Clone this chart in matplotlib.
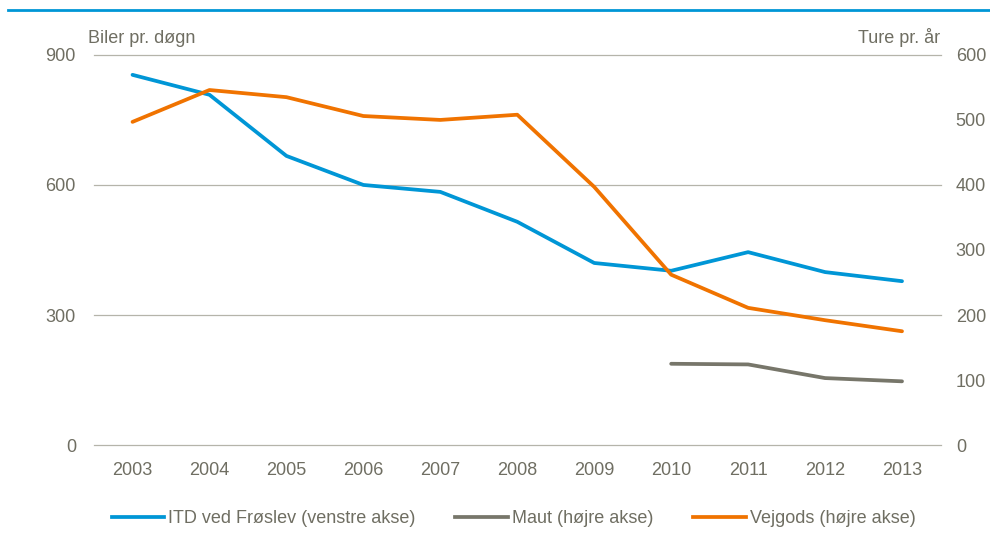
import matplotlib
matplotlib.use('Agg')
import matplotlib.pyplot as plt
from matplotlib.lines import Line2D

plt.rcParams['font.family'] = ['Liberation Sans', 'DejaVu Sans']

years = ['2003', '2004', '2005', '2006', '2007', '2008', '2009', '2010', '2011', '2012', '2013']
itd = [854, 808, 667, 600, 584, 515, 420, 402, 445, 399, 378]
vejgods = [497, 546, 535, 506, 500, 508, 397, 262, 211, 192, 175]
maut_years = ['2010', '2011', '2012', '2013']
maut = [125, 124, 103, 98]

left_ticks = [0, 300, 600, 900]
right_ticks = [0, 100, 200, 300, 400, 500, 600]

BLUE = '#0096D6'
ORANGE = '#F07300'
GREY = '#77766A'
TXT = '#6F6E62'
GRID = '#B5B4AA'

fig = plt.figure(figsize=(9.9, 5.33), dpi=100)
ax = fig.add_axes([0.095, 0.165, 0.855, 0.732])
ax2 = ax.twinx()

x = list(range(len(years)))
xm = [years.index(y) for y in maut_years]

ax.plot(x, itd, color=BLUE, lw=2.7, solid_capstyle='round', zorder=3)
ax2.plot(x, vejgods, color=ORANGE, lw=2.7, solid_capstyle='round', zorder=3)
ax2.plot(xm, maut, color=GREY, lw=2.7, solid_capstyle='round', zorder=3)

ax.set_xlim(-0.5, len(years) - 0.5)
ax.set_ylim(0, 900)
ax2.set_ylim(0, 600)
ax.set_yticks(left_ticks)
ax2.set_yticks(right_ticks)
ax.set_xticks(x)
ax.set_xticklabels(years)

for a in (ax, ax2):
    for s in a.spines.values():
        s.set_visible(False)
    a.tick_params(length=0, colors=TXT, labelsize=13)
ax.tick_params(axis='y', pad=13)
ax2.tick_params(axis='y', pad=11)
ax.tick_params(axis='x', pad=12)

for t in left_ticks:
    ax.axhline(t, color=GRID, lw=0.9, zorder=1, clip_on=False)

ax.text(-0.007, 1.02, 'Biler pr. døgn', transform=ax.transAxes,
        ha='left', va='bottom', color=TXT, fontsize=13)
ax.text(1.0, 1.02, 'Ture pr. år', transform=ax.transAxes,
        ha='right', va='bottom', color=TXT, fontsize=13)

# top rule
fig.add_artist(Line2D([0.008, 1.0], [0.982, 0.982], transform=fig.transFigure, color=BLUE, lw=2))

handles = [Line2D([], [], color=BLUE, lw=2.7),
           Line2D([], [], color=GREY, lw=2.7),
           Line2D([], [], color=ORANGE, lw=2.7)]
labels = ['ITD ved Frøslev (venstre akse)', 'Maut (højre akse)', 'Vejgods (højre akse)']
fig.legend(handles, labels, loc='lower center', bbox_to_anchor=(0.519, -0.02), ncol=3,
           frameon=False, fontsize=13, labelcolor=TXT, handlelength=2.9,
           handletextpad=0.25, columnspacing=2.2)

fig.savefig('out.png', dpi=100)
